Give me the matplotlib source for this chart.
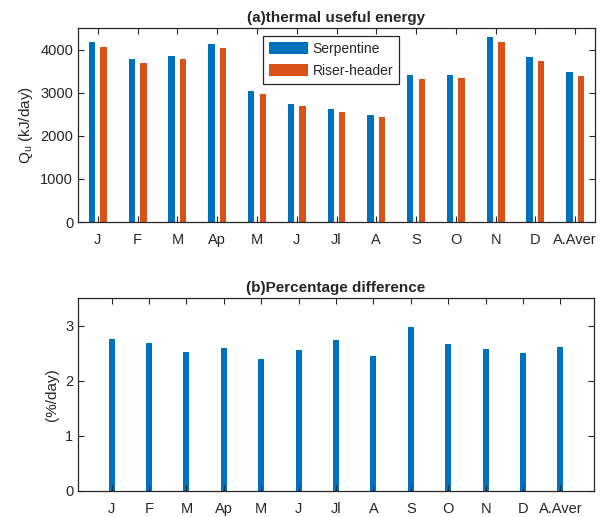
import matplotlib

matplotlib.use("Agg")
import matplotlib.pyplot as plt
import numpy as np

months = ["J", "F", "M", "Ap", "M", "J", "Jl", "A", "S", "O", "N", "D", "A.Aver"]
serpentine = [4170, 3780, 3860, 4130, 3045, 2740, 2625, 2485, 3415, 3410, 4280, 3835, 3485]
riser_header = [4070, 3680, 3775, 4030, 2975, 2690, 2555, 2425, 3325, 3330, 4170, 3745, 3395]
pct_diff = [2.75, 2.69, 2.52, 2.60, 2.39, 2.55, 2.73, 2.44, 2.97, 2.66, 2.58, 2.50, 2.61]

BLUE = "#0072BD"
ORANGE = "#D95319"
TXT = "#262626"

plt.rcParams["font.family"] = ["Liberation Sans Narrow", "Liberation Sans", "DejaVu Sans"]
plt.rcParams["font.size"] = 10.5
plt.rcParams["text.color"] = TXT
plt.rcParams["axes.labelcolor"] = TXT
plt.rcParams["xtick.color"] = TXT
plt.rcParams["ytick.color"] = TXT
plt.rcParams["axes.edgecolor"] = TXT


def style_axes(ax):
    ax.tick_params(direction="in", top=True, right=True, length=4, width=0.8,
                   labelsize=10.5)
    ax.tick_params(axis="x", pad=8)
    for s in ax.spines.values():
        s.set_linewidth(0.9)


fig = plt.figure(figsize=(6.01, 5.17), dpi=100)
ax1 = fig.add_axes([78 / 601, 1 - 222 / 517, 517 / 601, 194 / 517])
ax2 = fig.add_axes([78 / 601, 1 - 491 / 517, 516 / 601, 193 / 517])

x = np.arange(1, len(months) + 1)

# (a) thermal useful energy
ax1.bar(x - 0.145, serpentine, width=0.16, color=BLUE, label="Serpentine")
ax1.bar(x + 0.145, riser_header, width=0.16, color=ORANGE, label="Riser-header")
ax1.set_xlim(0.5, 13.5)
ax1.set_ylim(0, 4500)
ax1.set_yticks([0, 1000, 2000, 3000, 4000])
ax1.set_xticks(x)
ax1.set_xticklabels(months)
ax1.set_ylabel(r"Q$_\mathregular{u}$ (kJ/day)", fontsize=11)
ax1.set_title("(a)thermal useful energy", fontweight="bold", fontsize=11, pad=4)
leg = ax1.legend(loc="upper left", bbox_to_anchor=(0.358, 0.96), fancybox=False,
                 framealpha=1, edgecolor=TXT, fontsize=10, handlelength=2.8,
                 handleheight=1.0, handletextpad=0.3, borderpad=0.45,
                 borderaxespad=0, labelspacing=0.55)
leg.get_frame().set_linewidth(0.9)
style_axes(ax1)

# (b) percentage difference
ax2.bar(x, pct_diff, width=0.16, color=BLUE)
ax2.set_xlim(0.1, 13.9)
ax2.set_ylim(0, 3.5)
ax2.set_yticks([0, 1, 2, 3])
ax2.set_xticks(x)
ax2.set_xticklabels(months)
ax2.set_ylabel("(%/day)", fontsize=11)
ax2.set_title("(b)Percentage difference", fontweight="bold", fontsize=11, pad=4)
style_axes(ax2)

fig.savefig("out.png", dpi=100)
